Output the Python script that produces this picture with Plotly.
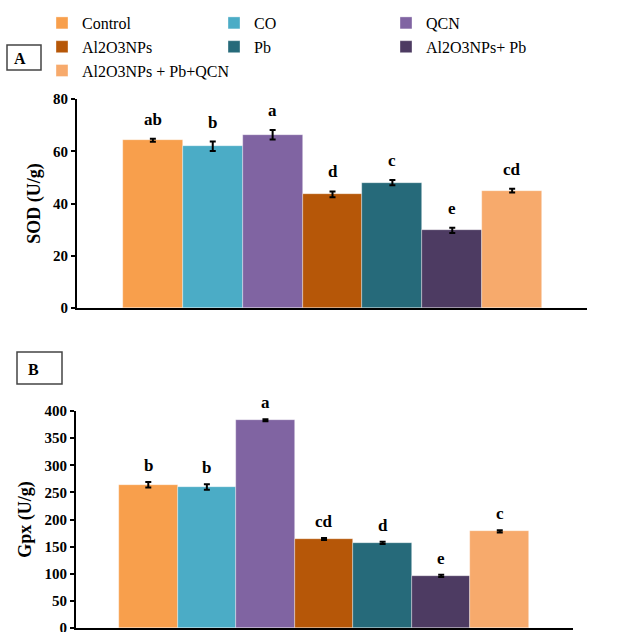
import plotly.graph_objects as go

groups = ["Control", "CO", "QCN", "Al2O3NPs", "Pb", "Al2O3NPs+ Pb", "Al2O3NPs + Pb+QCN"]
colors = ["#F89F4C", "#4BACC6", "#8064A2", "#B65708", "#266A7A", "#4D3B62", "#F7AA6C"]

sod_vals = [64.2, 61.9, 66.3, 43.5, 48.0, 29.7, 44.9]
sod_err = [0.6, 1.8, 1.8, 1.1, 1.0, 1.0, 0.7]
sod_letters = ["ab", "b", "a", "d", "c", "e", "cd"]

gpx_vals = [264, 260, 383, 164, 157, 96, 178]
gpx_err = [5, 5, 2, 2, 2, 2, 2]
gpx_letters = ["b", "b", "a", "cd", "d", "e", "c"]

W, H = 627, 632
def px(x): return x / W
def py(y): return 1 - y / H

FONT = "Liberation Serif, Times New Roman, serif"

fig = go.Figure()
for i, g in enumerate(groups):
    fig.add_trace(go.Bar(
        x=[g], y=[sod_vals[i]], name=g, marker=dict(color=colors[i], line=dict(color="rgba(255,255,255,0.6)", width=0.6)),
        error_y=dict(type="data", array=[sod_err[i]], color="black", thickness=2, width=3),
        xaxis="x", yaxis="y", showlegend=True, legendgroup=g))
for i, g in enumerate(groups):
    fig.add_trace(go.Bar(
        x=[g], y=[gpx_vals[i]], name=g, marker=dict(color=colors[i], line=dict(color="rgba(255,255,255,0.6)", width=0.6)),
        error_y=dict(type="data", array=[gpx_err[i]], color="black", thickness=2, width=3),
        xaxis="x2", yaxis="y2", showlegend=False, legendgroup=g))

annots = []
for i, g in enumerate(groups):
    annots.append(dict(x=g, y=sod_vals[i] + sod_err[i], xref="x", yref="y", text="<b>%s</b>" % sod_letters[i],
                       showarrow=False, yanchor="bottom", yshift=8, font=dict(family=FONT, size=17, color="black")))
    annots.append(dict(x=g, y=gpx_vals[i] + gpx_err[i], xref="x2", yref="y2", text="<b>%s</b>" % gpx_letters[i],
                       showarrow=False, yanchor="bottom", yshift=5, font=dict(family=FONT, size=17, color="black")))

annots.append(dict(x=px(20), y=py(58), xref="paper", yref="paper", text="<b>A</b>", showarrow=False,
                   xanchor="center", yanchor="middle", font=dict(family=FONT, size=16, color="black")))
annots.append(dict(x=px(33), y=py(369), xref="paper", yref="paper", text="<b>B</b>", showarrow=False,
                   xanchor="center", yanchor="middle", font=dict(family=FONT, size=16, color="black")))

shapes = [
    dict(type="rect", xref="paper", yref="paper", x0=px(7), x1=px(41), y0=py(70), y1=py(45),
         line=dict(color="#444", width=1.5), fillcolor="rgba(0,0,0,0)"),
    dict(type="rect", xref="paper", yref="paper", x0=px(17), x1=px(62), y0=py(384), y1=py(352),
         line=dict(color="#444", width=1.5), fillcolor="rgba(0,0,0,0)"),
]

yaxis_common = dict(showline=True, linecolor="black", linewidth=2, ticks="outside", ticklen=4, tickwidth=2,
                    tickcolor="black", showgrid=False, zeroline=False, automargin=False,
                    ticklabeloverflow="allow",
                    tickfont=dict(family=FONT, size=15, color="black", weight="bold"))
xaxis_common = dict(showline=True, linecolor="black", linewidth=2, showticklabels=False, ticks="",
                    showgrid=False, zeroline=False, automargin=False)

fig.update_layout(
    width=W, height=H, margin=dict(l=0, r=0, t=0, b=0, autoexpand=False),
    font=dict(family=FONT, color="black"),
    paper_bgcolor="white", plot_bgcolor="white",
    barmode="relative", bargap=0,
    xaxis=dict(domain=[px(77), px(587)], range=[-1.267, 7.25], anchor="y", **xaxis_common),
    yaxis=dict(domain=[py(308), py(99)], range=[0, 80], dtick=20, anchor="x",
               title=dict(text="<b>SOD (U/g)</b>", font=dict(family=FONT, size=18, color="black"), standoff=8),
               **yaxis_common),
    xaxis2=dict(domain=[px(76), px(573)], range=[-1.234, 7.25], anchor="y2", **xaxis_common),
    yaxis2=dict(domain=[py(628), py(411)], range=[0, 400], dtick=50, anchor="x2",
                title=dict(text="<b>Gpx (U/g)</b>", font=dict(family=FONT, size=18, color="black"), standoff=8),
                **yaxis_common),
    legend=dict(orientation="h", x=px(42), y=py(6), xanchor="left", yanchor="top",
                entrywidth=127, entrywidthmode="pixels", traceorder="normal",
                font=dict(family=FONT, size=16, color="black"), itemwidth=30, bgcolor="rgba(0,0,0,0)"),
    annotations=annots, shapes=shapes,
)

fig.write_html("out.html", config={"displayModeBar": False},
               post_script="document.body.style.margin='0';document.body.style.overflow='hidden';")
